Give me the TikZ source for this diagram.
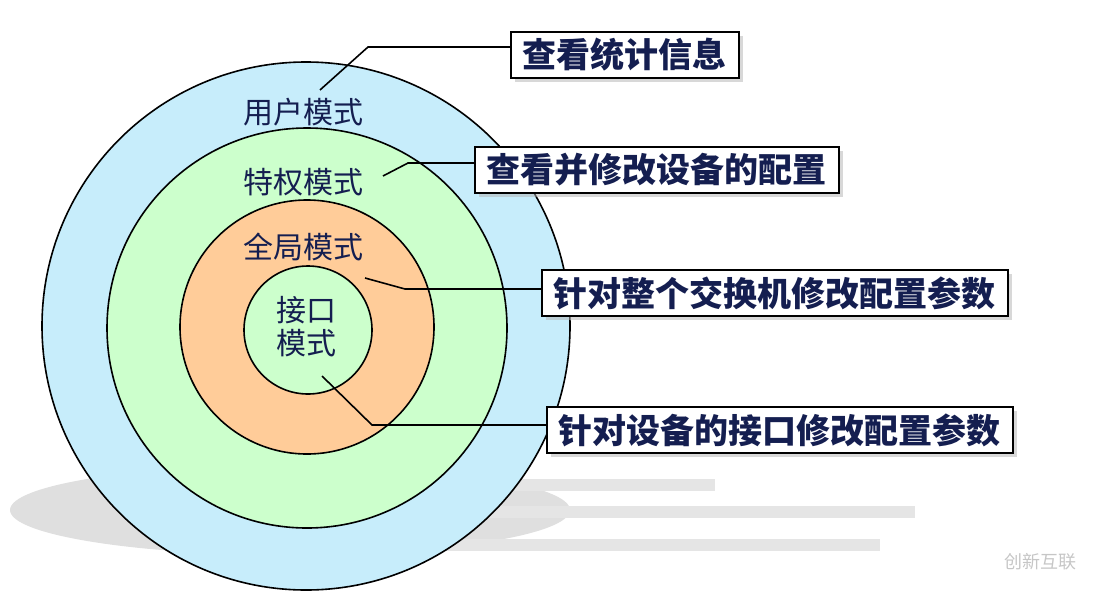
\documentclass[tikz,border=0pt]{standalone}
\usepackage{fontspec}
\setmainfont{Noto Sans CJK SC}
\usetikzlibrary{positioning,shadows}
\definecolor{navy}{RGB}{20,30,80}
\tikzset{
  modetext/.style={font=\fontsize{30}{35}\selectfont,text=navy},
  notebox/.style={draw,line width=1.6pt,fill=white,anchor=west,minimum height=46pt,inner xsep=12pt,
    font=\fontsize{34}{38}\selectfont\bfseries,text=navy,
    drop shadow={shadow xshift=4pt,shadow yshift=-4pt,fill=gray!60}},
  callout/.style={line width=1.6pt}
}
\begin{document}
\begin{tikzpicture}[x=1pt,y=-1pt]
  \useasboundingbox (0,0) rectangle (1094,592);

  % shadows on the floor
  \fill[gray!25] (290,510) ellipse (280 and 45);
  \foreach \y/\l in {485/715,512/915,545/880} {
    \fill[gray!20] (330,\y-6) rectangle (\l,\y+6);
  }

  % circles
  \draw[line width=1.6pt,fill=cyan!22] (306,326) circle (264);
  \draw[line width=1.6pt,fill=green!20] (307,328) circle (200);
  \draw[line width=1.6pt,fill=orange!40] (307,327) circle (127);
  \draw[line width=1.6pt,fill=green!20] (308,330) circle (64);

  \node[modetext] (user) at (303,112) {用户模式};
  \node[modetext] (priv) at (303,182) {特权模式};
  \node[modetext] (glob) at (303,247) {全局模式};
  \node[modetext,align=center] (intf) at (306,327) {接口\\[-2pt]模式};

  % notes
  \node[notebox] (n1) at (510,55) {查看统计信息};
  \node[notebox] (n2) at (474,170) {查看并修改设备的配置};
  \node[notebox] (n3) at (541,293) {针对整个交换机修改配置参数};
  \node[notebox] (n4) at (546,430) {针对设备的接口修改配置参数};

  \coordinate (c1) at (320,90);
  \coordinate (c2) at (383,176);
  \coordinate (c3) at (365,278);
  \coordinate (c4) at (322,376);
  \draw[callout] (c1) -- (368,47) -- (368,47 -| n1.west);
  \draw[callout] (c2) -- (408,163) -- (408,163 -| n2.west);
  \draw[callout] (c3) -- (405,289) -- (405,289 -| n3.west);
  \draw[callout] (c4) -- (372,425) -- (372,425 -| n4.west);

  % watermark
  \node[text=gray!45,font=\fontsize{18}{20}\selectfont] (mark) at (1040,562) {创新互联};
\end{tikzpicture}
\end{document}
